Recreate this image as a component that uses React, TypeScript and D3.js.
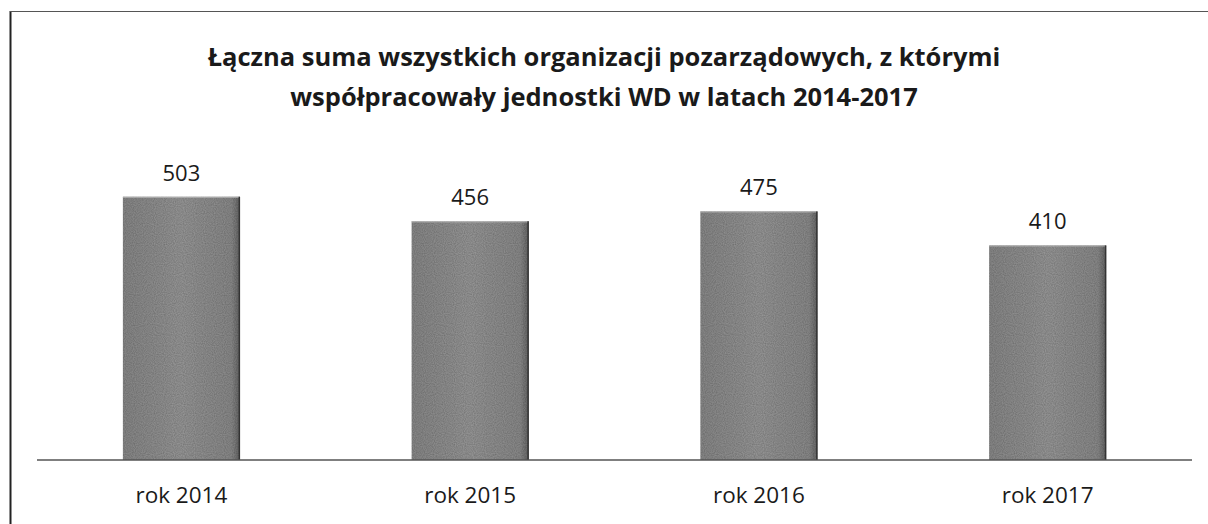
import React from "react";
import * as d3 from "d3";

// data
const categories = ["rok 2014", "rok 2015", "rok 2016", "rok 2017"];
const values = [503, 456, 475, 410];
const titleLines = [
  "Łączna suma wszystkich organizacji pozarządowych, z którymi",
  "współpracowały jednostki WD w latach 2014-2017",
];

const W = 1208;
const H = 524;
const font = "'Open Sans', 'Noto Sans', sans-serif";

export default function App() {
  const x0 = 37;
  const x1 = 1192;
  const baseY = 460;

  const xScale = d3
    .scaleBand<string>()
    .domain(categories)
    .range([x0, x1])
    .paddingInner(0.595)
    .paddingOuter(0.2975);
  const yScale = d3.scaleLinear().domain([0, 600]).range([baseY, baseY - 314]);

  const bw = xScale.bandwidth();

  return (
    <svg
      width={W}
      height={H}
      style={{ position: "absolute", left: 0, top: 0, background: "#fff" }}
    >
      <defs>
        <linearGradient id="barGrad" x1="0" x2="1" y1="0" y2="0">
          <stop offset="0" stopColor="#888" />
          <stop offset="0.5" stopColor="#979797" />
          <stop offset="0.93" stopColor="#8a8a8a" />
          <stop offset="1" stopColor="#666" />
        </linearGradient>
        <filter id="grain" x="0" y="0" width="100%" height="100%">
          <feTurbulence type="fractalNoise" baseFrequency="0.9" numOctaves="1" seed="3" result="n" />
          <feColorMatrix
            in="n"
            type="matrix"
            values="0 0 0 0 0  0 0 0 0 0  0 0 0 0 0  0 0 0 0.6 -0.1"
            result="dots"
          />
          <feComposite in="dots" in2="SourceGraphic" operator="in" result="dd" />
          <feMerge>
            <feMergeNode in="SourceGraphic" />
            <feMergeNode in="dd" />
          </feMerge>
        </filter>
      </defs>

      {/* chart area border (scan crops right and bottom) */}
      <line x1={10.5} y1={11} x2={10.5} y2={H} stroke="#222" strokeWidth={2} />
      <line x1={10} y1={11.5} x2={W} y2={11.5} stroke="#555" strokeWidth={1.2} />

      {/* title */}
      {titleLines.map((t, i) => (
        <text
          key={i}
          x={604}
          y={66 + i * 40}
          textAnchor="middle"
          fontFamily={font}
          fontWeight={700}
          fontSize={25.5}
          fill="#1a1a1a"
        >
          {t}
        </text>
      ))}

      {/* bars */}
      {values.map((v, i) => {
        const bx = xScale(categories[i]) as number;
        const by = yScale(v);
        return (
          <g key={i}>
            <rect
              x={bx}
              y={by}
              width={bw}
              height={baseY - by}
              fill="url(#barGrad)"
              filter="url(#grain)"
            />
            <line x1={bx} y1={by + 0.5} x2={bx + bw} y2={by + 0.5} stroke="#b5b5b5" strokeWidth={1} />
            <line x1={bx + bw - 0.5} y1={by} x2={bx + bw - 0.5} y2={baseY} stroke="#333" strokeWidth={1.5} />
            <text
              x={bx + bw / 2}
              y={by - 16}
              textAnchor="middle"
              fontFamily={font}
              fontSize={22}
              fill="#1a1a1a"
            >
              {v}
            </text>
          </g>
        );
      })}

      {/* baseline */}
      <line x1={x0} y1={baseY} x2={x1} y2={baseY} stroke="#555" strokeWidth={1.5} />

      {/* category labels */}
      {categories.map((c) => (
        <text
          key={c}
          x={(xScale(c) as number) + bw / 2}
          y={503}
          textAnchor="middle"
          fontFamily={font}
          fontSize={22.5}
          fill="#1a1a1a"
        >
          {c}
        </text>
      ))}
    </svg>
  );
}
